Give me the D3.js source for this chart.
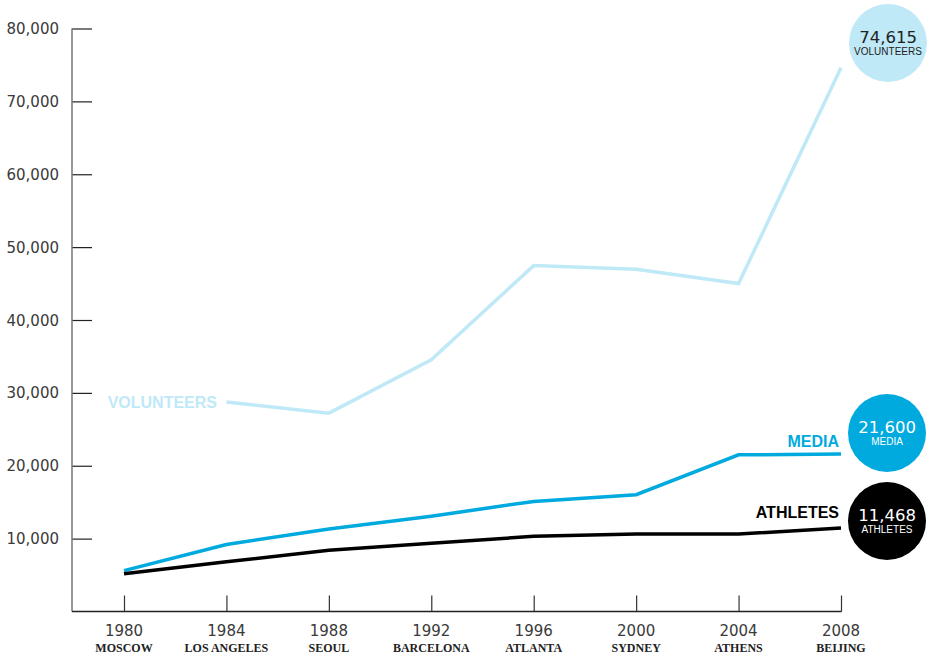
<!DOCTYPE html>
<html><head><meta charset="utf-8">
<script src="https://cdn.jsdelivr.net/npm/d3@7"></script>
<style>body{margin:0;background:#fff}svg{display:block}</style>
</head><body>
<svg id="c" width="930" height="655"></svg>
<script>
const years = [1980, 1984, 1988, 1992, 1996, 2000, 2004, 2008];
const cities = ["MOSCOW", "LOS ANGELES", "SEOUL", "BARCELONA", "ATLANTA", "SYDNEY", "ATHENS", "BEIJING"];
const athletes = [5179, 6829, 8391, 9356, 10318, 10651, 10625, 11468];
const media = [5615, 9190, 11331, 13082, 15108, 16033, 21500, 21600];
const volunteers = [null, 28742, 27221, 34548, 47466, 46967, 45000, 74615];
const yTicks = [10000, 20000, 30000, 40000, 50000, 60000, 70000, 80000];

const svg = d3.select("#c");
const x = d3.scaleLinear().domain([1980, 2008]).range([124, 841]);
const y = d3.scaleLinear().domain([0, 80000]).range([611.5, 28.5]);
const sans = "'Liberation Sans', Arial, sans-serif";
const wide = "'DejaVu Sans', Verdana, sans-serif";

// Y axis
const ya = svg.append("g").attr("transform", "translate(72,0)")
  .call(d3.axisRight(y).tickValues(yTicks).tickSize(20).tickFormat(""));
ya.select(".domain").remove();
ya.selectAll(".tick line").attr("stroke", "#222").attr("stroke-width", 1.2);
svg.append("line").attr("x1", 72).attr("x2", 72).attr("y1", y(80000)).attr("y2", 611.5)
  .attr("stroke", "#777").attr("stroke-width", 1.5);
svg.append("g").selectAll("text").data(yTicks).join("text")
  .attr("x", 59).attr("y", d => y(d) + 5.5).attr("text-anchor", "end")
  .attr("font-family", wide).attr("font-size", 15).attr("fill", "#3a3a3a")
  .text(d => d3.format(",")(d));

// X axis
const xa = svg.append("g").attr("transform", "translate(0,611.5)")
  .call(d3.axisTop(x).tickValues(years).tickSize(16).tickFormat(""));
xa.select(".domain").remove();
xa.selectAll(".tick line").attr("stroke", "#333").attr("stroke-width", 1.2);
svg.append("line").attr("x1", 72).attr("x2", 841.5).attr("y1", 611.5).attr("y2", 611.5)
  .attr("stroke", "#222").attr("stroke-width", 1.3);
svg.append("g").selectAll("text").data(years).join("text")
  .attr("x", d => x(d)).attr("y", 636).attr("text-anchor", "middle")
  .attr("font-family", wide).attr("font-size", 15).attr("fill", "#3a3a3a")
  .text(d => d);
svg.append("g").selectAll("text").data(cities).join("text")
  .attr("x", (d, i) => x(years[i])).attr("y", 652).attr("text-anchor", "middle")
  .attr("font-family", "'Liberation Serif', 'Times New Roman', serif").attr("font-weight", "bold")
  .attr("font-size", 12).attr("fill", "#222")
  .text(d => d);

// Lines
const line = d3.line().defined(d => d[1] != null).x(d => x(d[0])).y(d => y(d[1]));
function draw(vals, color) {
  svg.append("path").datum(years.map((yr, i) => [yr, vals[i]]))
    .attr("d", line).attr("fill", "none").attr("stroke", color)
    .attr("stroke-width", 3.5).attr("stroke-linejoin", "miter");
}
const cVol = "#bfe9f7", cMed = "#00aadf", cAth = "#000";
draw(volunteers, cVol);
draw(media, cMed);
draw(athletes, cAth);

// Line labels
svg.append("text").attr("x", 217).attr("y", 407.5).attr("text-anchor", "end")
  .attr("font-family", sans).attr("font-weight", "bold").attr("font-size", 16).attr("fill", cVol).text("VOLUNTEERS");
svg.append("text").attr("x", 839).attr("y", 447).attr("text-anchor", "end")
  .attr("font-family", sans).attr("font-weight", "bold").attr("font-size", 16).attr("fill", cMed).text("MEDIA");
svg.append("text").attr("x", 839).attr("y", 518).attr("text-anchor", "end")
  .attr("font-family", sans).attr("font-weight", "bold").attr("font-size", 16).attr("fill", cAth).text("ATHLETES");

// Circles
const bubbles = [
  {v: volunteers[7], name: "VOLUNTEERS", cx: 888, cy: 43, fill: cVol, text: "#222"},
  {v: media[7], name: "MEDIA", cx: 887, cy: 433, fill: cMed, text: "#fff"},
  {v: athletes[7], name: "ATHLETES", cx: 887, cy: 521, fill: cAth, text: "#fff"}
];
const bg = svg.append("g").selectAll("g").data(bubbles).join("g")
  .attr("transform", d => `translate(${d.cx},${d.cy})`);
bg.append("circle").attr("r", 39).attr("fill", d => d.fill);
bg.append("text").attr("y", 0).attr("text-anchor", "middle")
  .attr("font-family", wide).attr("font-size", 16.5).attr("fill", d => d.text)
  .text(d => d3.format(",")(d.v));
bg.append("text").attr("y", 12).attr("text-anchor", "middle")
  .attr("font-family", sans).attr("font-size", 10).attr("fill", d => d.text)
  .text(d => d.name);
</script>
</body></html>
